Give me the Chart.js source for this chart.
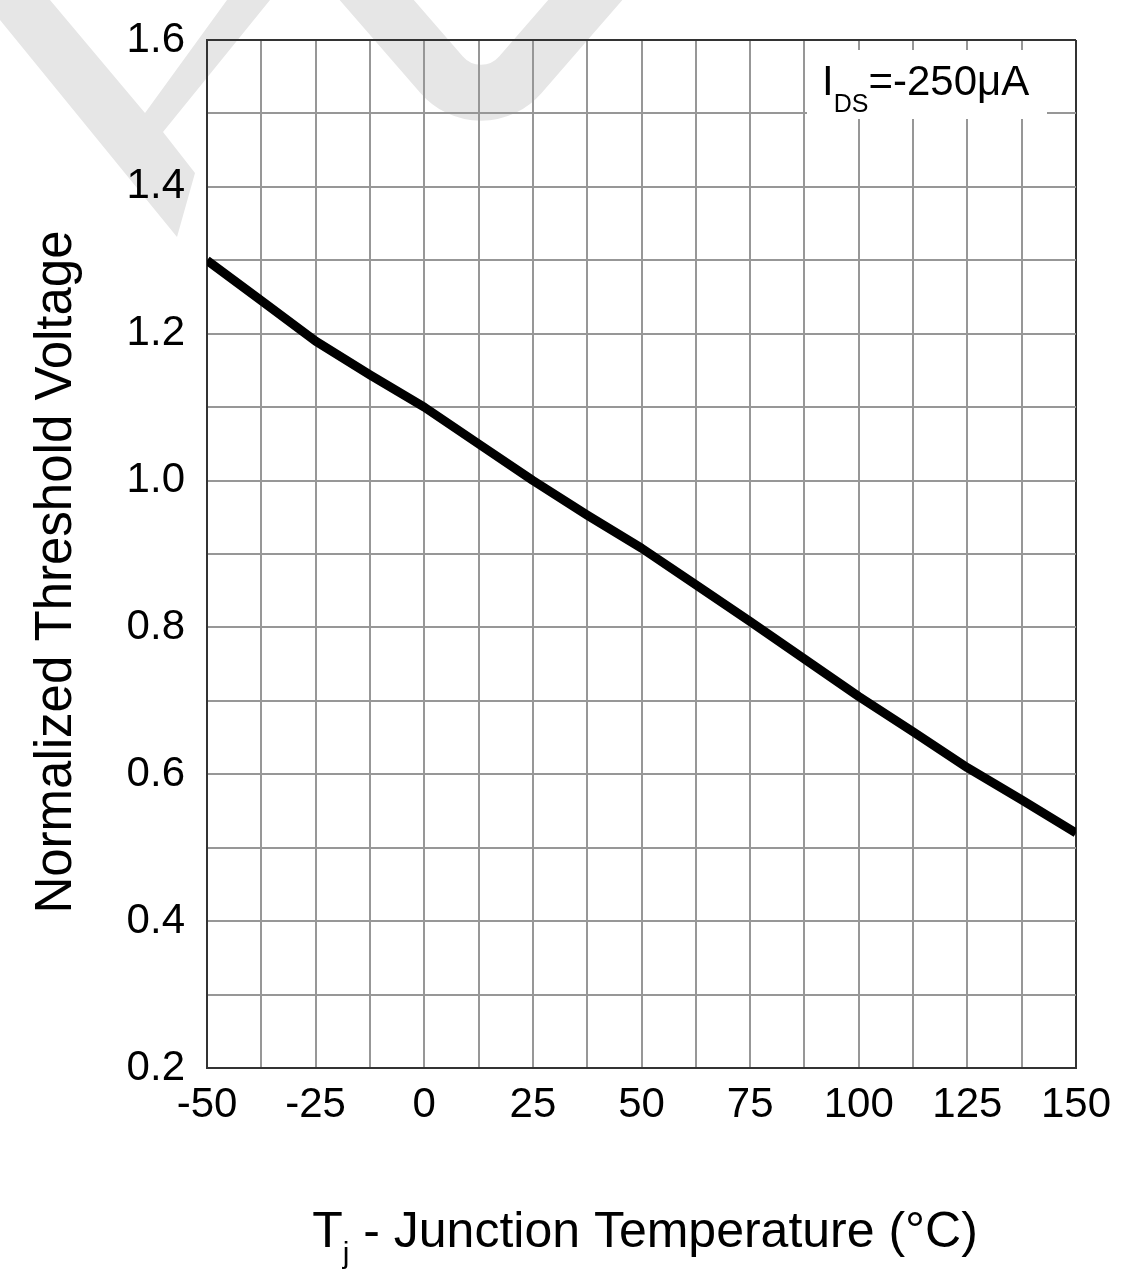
<!DOCTYPE html>
<html>
<head>
<meta charset="utf-8">
<script src="https://cdn.jsdelivr.net/npm/chart.js@4.4.1/dist/chart.umd.min.js"></script>
<style>
  html, body { margin: 0; padding: 0; background: #fff; }
  #wrap { width: 1126px; height: 1270px; }
</style>
</head>
<body>
<div id="wrap"><canvas id="myChart" width="1126" height="1270"></canvas></div>
<script>
"use strict";
// Tj (°C) vs normalized threshold voltage
const temps = [-50, -37.5, -25, -12.5, 0, 12.5, 25, 37.5, 50, 62.5, 75, 87.5, 100, 112.5, 125, 137.5, 150];
const vthNorm = [1.30, 1.245, 1.19, 1.144, 1.10, 1.05, 1.00, 0.953, 0.908, 0.858, 0.808, 0.757, 0.706, 0.658, 0.609, 0.565, 0.52];
const xTickLabels = [-50, -25, 0, 25, 50, 75, 100, 125, 150];
const yTickLabels = [0.2, 0.4, 0.6, 0.8, 1.0, 1.2, 1.4, 1.6];

const FONT = '"Liberation Sans", Arial, sans-serif';
const GRID = '#979797';
const FRAME = '#333';

// light grey logo watermark behind the plot
const watermark = {
    id: 'watermark',
    beforeDraw(chart) {
        const c = chart.ctx;
        c.save();
        c.fillStyle = '#e6e6e6';
        c.beginPath();
        c.moveTo(0, 0);
        c.lineTo(50, 0);
        c.lineTo(145, 113);
        c.lineTo(227, 0);
        c.lineTo(270, 0);
        c.lineTo(163, 132);
        c.lineTo(195, 173);
        c.lineTo(177, 237);
        c.lineTo(0, 20);
        c.closePath();
        c.fill();
        c.strokeStyle = '#e6e6e6';
        c.lineWidth = 56;
        c.beginPath();
        c.moveTo(355, -25);
        c.arcTo(481, 120, 607, -25, 52);
        c.lineTo(607, -25);
        c.stroke();
        c.restore();
    }
};

// axis titles (with subscript) and the test condition label
const labels = {
    id: 'labels',
    afterDraw(chart) {
        const c = chart.ctx;
        const area = chart.chartArea;
        c.save();
        c.fillStyle = '#000';
        c.textBaseline = 'alphabetic';

        // y title
        c.font = '51px ' + FONT;
        c.save();
        c.translate(71, 572);
        c.rotate(-Math.PI / 2);
        c.textAlign = 'center';
        c.fillText('Normalized Threshold Voltage', 0, 0);
        c.restore();

        // x title: T_j - Junction Temperature (°C)
        c.textAlign = 'left';
        const big = '50px ' + FONT, small = '30px ' + FONT;
        const rest = ' - Junction Temperature (\u00B0C)';
        c.font = big;
        const wT = c.measureText('T').width, wRest = c.measureText(rest).width;
        c.font = small;
        const wj = c.measureText('j').width;
        let x = 645 - (wT + wj + wRest) / 2;
        const by = 1247;
        c.font = big;
        c.fillText('T', x, by);
        x += wT;
        c.font = small;
        c.fillText('j', x, by + 16);
        x += wj;
        c.font = big;
        c.fillText(rest, x, by);

        // I_DS = -250µA box
        c.fillStyle = '#fff';
        c.fillRect(area.right - 29, area.top + 10, -240, 69);
        c.fillStyle = '#000';
        let ax = area.right - 254;
        const ay = area.top + 55;
        c.font = '42px ' + FONT;
        c.fillText('I', ax, ay);
        ax += c.measureText('I').width;
        c.font = '25px ' + FONT;
        c.fillText('DS', ax, ay + 17);
        ax += c.measureText('DS').width;
        c.font = '42px ' + FONT;
        c.fillText('=-250\u03BCA', ax, ay);
        c.restore();
    }
};

const ctx = document.getElementById('myChart');
const myChart = new Chart(ctx, {
    type: 'line',
    data: {
        datasets: [{
            data: temps.map((t, i) => ({ x: t, y: vthNorm[i] })),
            borderColor: '#000',
            borderWidth: 9,
            borderJoinStyle: 'round',
            pointRadius: 0,
            tension: 0,
            fill: false
        }]
    },
    options: {
        responsive: false,
        animation: false,
        devicePixelRatio: 1,
        layout: { padding: { top: 40, right: 50, left: 0, bottom: 0 } },
        plugins: {
            legend: { display: false },
            tooltip: { enabled: false }
        },
        scales: {
            x: {
                type: 'linear',
                min: -50,
                max: 150,
                afterFit: s => { s.height = 202; },
                ticks: {
                    stepSize: 12.5,
                    autoSkip: false,
                    maxRotation: 0,
                    padding: 12,
                    color: '#000',
                    font: { family: FONT, size: 42 },
                    callback: v => xTickLabels.includes(v) ? String(v) : ''
                },
                grid: {
                    drawTicks: false,
                    lineWidth: 2,
                    color: c => (c.tick && c.tick.value === 150) ? FRAME : GRID
                },
                border: { color: FRAME, width: 2 }
            },
            y: {
                type: 'linear',
                min: 0.2,
                max: 1.6,
                afterFit: s => { s.width = 207; s.paddingTop = 0; s.paddingBottom = 0; },
                ticks: {
                    stepSize: 0.1,
                    autoSkip: false,
                    padding: 22,
                    color: '#000',
                    font: { family: FONT, size: 42 },
                    callback: v => yTickLabels.some(t => Math.abs(t - v) < 1e-6) ? v.toFixed(1) : ''
                },
                grid: {
                    drawTicks: false,
                    lineWidth: 2,
                    color: c => (c.tick && Math.abs(c.tick.value - 1.6) < 1e-6) ? FRAME : GRID
                },
                border: { color: FRAME, width: 2 }
            }
        }
    },
    plugins: [watermark, labels]
});
</script>
</body>
</html>
